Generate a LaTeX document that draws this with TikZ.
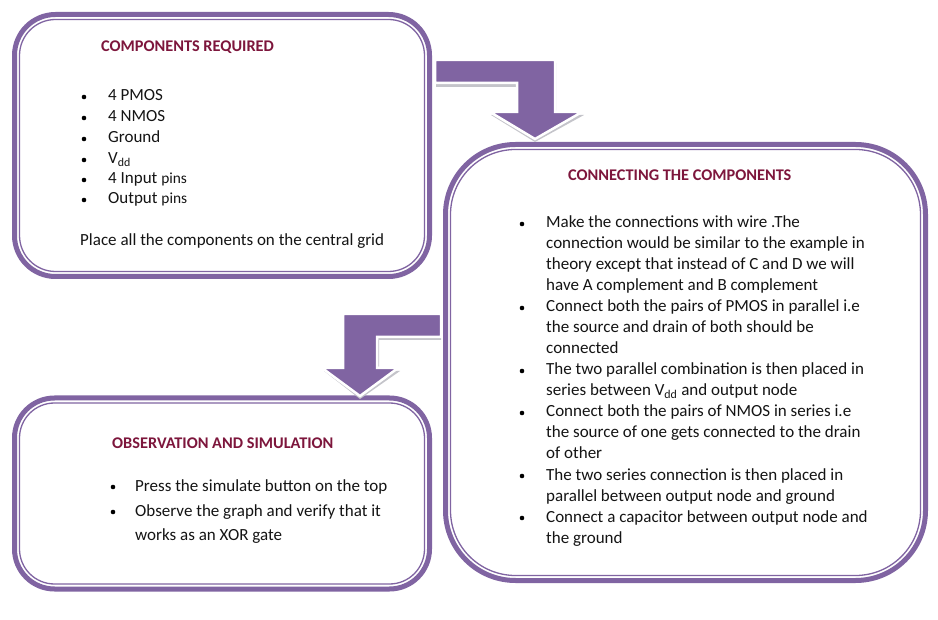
\documentclass[tikz,border=0pt]{standalone}
\usepackage{fontspec}
\setmainfont{Carlito}
\definecolor{boxpurple}{RGB}{128,100,162}
\definecolor{titlered}{RGB}{125,22,60}
\definecolor{arrowshade}{RGB}{196,196,202}
\newcommand\smallpins{{\fontsize{15.4}{18}\selectfont pins}}
\newcommand\Vdd{V\textsubscript{dd}}
\begin{document}
\begin{tikzpicture}[x=1pt,y=-1pt,
  txt/.style={anchor=base west, inner sep=0pt, font=\fontsize{17}{20}\selectfont, text=black!92},
  heading/.style={anchor=base west, inner sep=0pt, font=\fontsize{16.3}{19}\selectfont\bfseries, text=titlered},
  outerline/.style={draw=boxpurple, line width=5pt},
  innerline/.style={draw=boxpurple, line width=1.3pt},
  dot/.style={circle, fill=black, inner sep=0pt, minimum size=4.6pt},
  arrowbody/.style={fill=boxpurple, draw=white, line width=2.5pt, line join=miter},
  arrowshadow/.style={fill=arrowshade}]

\useasboundingbox[fill=white] (0,0) rectangle (938,620);

% ---------- frames ----------
\draw[outerline, rounded corners=41] (14.5,14.5) rectangle (429.5,276.5);
\draw[innerline, rounded corners=36] (19.5,19.5) rectangle (424.5,271.5);

\draw[outerline, rounded corners=70] (445.5,144.5) rectangle (925.5,580.5);
\draw[innerline, rounded corners=65] (450.5,149.5) rectangle (920.5,575.5);

\draw[outerline, rounded corners=40] (14.5,398) rectangle (429.5,589);
\draw[innerline, rounded corners=35] (19.5,403) rectangle (424.5,584);

% ---------- bent arrows ----------
\coordinate (a1tip) at (535,139);
\coordinate (a2tip) at (360,396);
\fill[arrowshadow] (436,63) -- (556,63) -- (556,115) -- (584,115) -- ([yshift=-3pt]a1tip)
  -- (491,115) -- (518,115) -- (518,87) -- (436,87) -- cycle;
\path[arrowbody] (435,60) -- (555,60) -- (555,112) -- (582,112) -- (a1tip)
  -- (490,112) -- (517,112) -- (517,83) -- (435,83) -- cycle;

\fill[arrowshadow] (441,317) -- (345,317) -- (345,371) -- (324,371) -- ([yshift=-3pt]a2tip)
  -- (400,371) -- (379,371) -- (379,340) -- (441,340) -- cycle;
\path[arrowbody] (441,314) -- (343,314) -- (343,368) -- (322,368) -- (a2tip)
  -- (398,368) -- (377,368) -- (377,337) -- (441,337) -- cycle;

\begin{scope}[yshift=-1pt]
% ---------- components required ----------
\node[heading] (t1) at (101,51) {COMPONENTS REQUIRED};
\node[dot] (d1a) at (84,96) {};
\node[dot] (d1b) at (84,117) {};
\node[dot] (d1c) at (84,138) {};
\node[dot] (d1d) at (84,159) {};
\node[dot] (d1e) at (84,179) {};
\node[dot] (d1f) at (84,199) {};
\node[txt] (l1a) at (108,100) {4 PMOS};
\node[txt] (l1b) at (108,121) {4 NMOS};
\node[txt] (l1c) at (108,142) {Ground};
\node[txt] (l1d) at (108,163) {\Vdd};
\node[txt] (l1e) at (108,183) {4 Input \smallpins};
\node[txt] (l1f) at (108,203) {Output \smallpins};
\node[txt] (l1g) at (80,245) {Place all the components on the central grid};

% ---------- connecting the components ----------
\node[heading] (t2) at (568,180) {CONNECTING THE COMPONENTS};
\node[dot] (d2a) at (522,223) {};
\node[dot] (d2b) at (522,307) {};
\node[dot] (d2c) at (522,370) {};
\node[dot] (d2d) at (522,412) {};
\node[dot] (d2e) at (522,475) {};
\node[dot] (d2f) at (522,517) {};
\node[txt] (l2a) at (546,227) {Make the connections with wire .The};
\node[txt] (l2b) at (546,248) {connection would be similar to the example in};
\node[txt] (l2c) at (546,269) {theory except that instead of C and D we will};
\node[txt] (l2d) at (546,290) {have A complement and B complement};
\node[txt] (l2e) at (546,311) {Connect both the pairs of PMOS in parallel i.e};
\node[txt] (l2f) at (546,332) {the source and drain of both should be};
\node[txt] (l2g) at (546,353) {connected};
\node[txt] (l2h) at (546,374) {The two parallel combination is then placed in};
\node[txt] (l2i) at (546,395) {series between \Vdd{} and output node};
\node[txt] (l2j) at (546,416) {Connect both the pairs of NMOS in series i.e};
\node[txt] (l2k) at (546,437) {the source of one gets connected to the drain};
\node[txt] (l2l) at (546,458) {of other};
\node[txt] (l2m) at (546,479) {The two series connection is then placed in};
\node[txt] (l2n) at (546,500) {parallel between output node and ground};
\node[txt] (l2o) at (546,521) {Connect a capacitor between output node and};
\node[txt] (l2p) at (546,542) {the ground};

% ---------- observation and simulation ----------
\node[heading] (t3) at (112,448) {OBSERVATION AND SIMULATION};
\node[dot] (d3a) at (113,486) {};
\node[dot] (d3b) at (113,511) {};
\node[txt] (l3a) at (135,490) {Press the simulate button on the top};
\node[txt] (l3b) at (135,515) {Observe the graph and verify that it};
\node[txt] (l3c) at (135,539) {works as an XOR gate};
\end{scope}
\end{tikzpicture}
\end{document}
